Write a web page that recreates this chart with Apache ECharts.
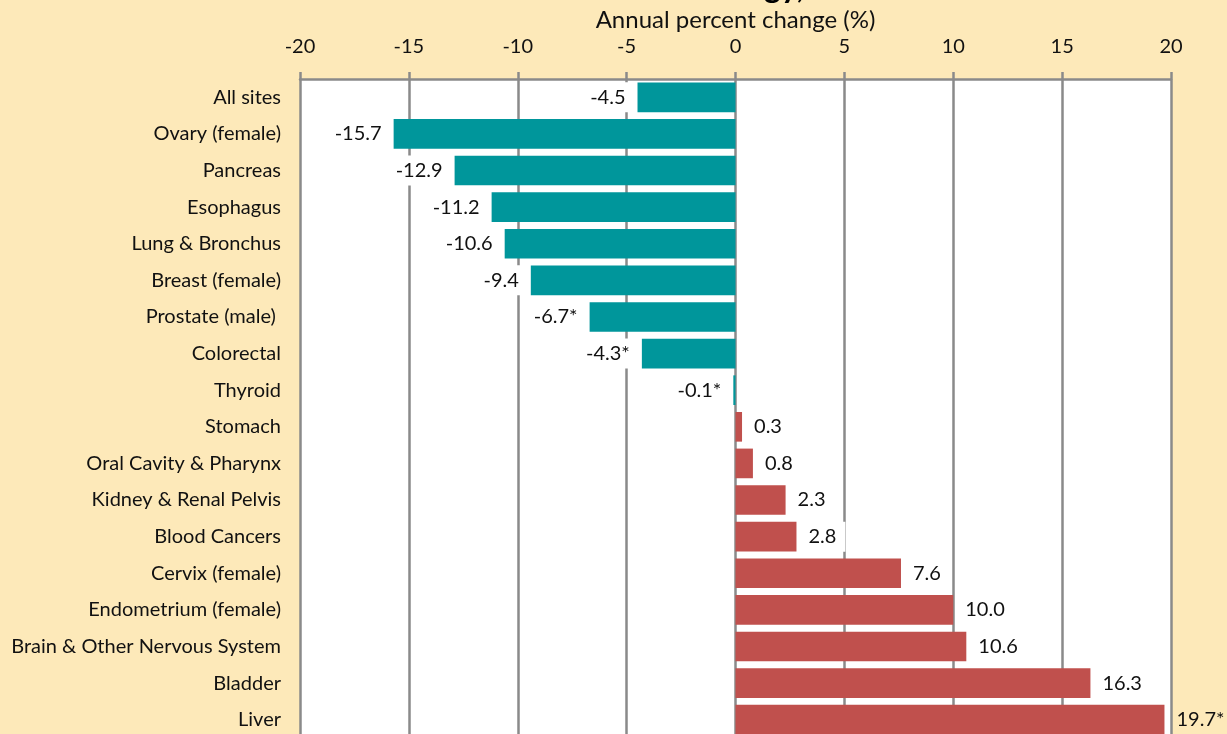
<!DOCTYPE html>
<html lang="en">
  <head>
    <meta charset="UTF-8" />
    <title>Annual percent change by site</title>
    <script src="https://cdnjs.cloudflare.com/ajax/libs/echarts/6.0.0/echarts.min.js"></script>
    <style>
      html, body { margin: 0; padding: 0; background: #fde9b9; }
      #chart { width: 1227px; height: 734px; }
    </style>
  </head>
  <body>
    <div id="chart"></div>
    <script type="text/javascript">
      // categories, top to bottom
      const sites = [
        "All sites", "Ovary (female)", "Pancreas", "Esophagus", "Lung & Bronchus",
        "Breast (female)", "Prostate (male) ", "Colorectal", "Thyroid", "Stomach",
        "Oral Cavity & Pharynx", "Kidney & Renal Pelvis", "Blood Cancers",
        "Cervix (female)", "Endometrium (female)", "Brain & Other Nervous System",
        "Bladder", "Liver"
      ];
      // annual percent change
      const apc = [
        -4.5, -15.7, -12.9, -11.2, -10.6, -9.4, -6.7, -4.3, -0.1, 0.3,
        0.8, 2.3, 2.8, 7.6, 10.0, 10.6, 16.3, 19.7
      ];
      // asterisk shown after the value
      const starred = [
        false, false, false, false, false, false, true, true, true, false,
        false, false, false, false, false, false, false, true
      ];
      const xTicks = [-20, 20, 5]; // min, max, step

      const font = "Lato, 'Open Sans', sans-serif";
      const gridGray = "#8a8a8a";

      const chart = echarts.init(document.getElementById("chart"));

      const barData = apc.map((v, i) => ({
        value: v,
        itemStyle: { color: v < 0 ? "#00969b" : "#c0504d" },
        label: {
          position: v < 0 ? "left" : "right",
          formatter: v.toFixed(1) + (starred[i] ? "*" : ""),
          backgroundColor: v > xTicks[1] * 0.9 ? "transparent" : "#ffffff"
        }
      }));

      const option = {
        backgroundColor: "#fde9b9",
        animation: false,
        textStyle: { fontFamily: font },
        grid: {
          left: 300,
          right: 56,
          top: 79,
          height: 659,
          outerBoundsMode: "none",
          show: true,
          backgroundColor: "#ffffff",
          borderWidth: 0
        },
        graphic: [
          {
            type: "text",
            left: 764,
            top: -28,
            silent: true,
            style: {
              text: "gy,",
              fontSize: 32,
              fontWeight: "bold",
              fontFamily: font,
              fill: "#000"
            }
          }
        ],
        xAxis: {
          type: "value",
          position: "top",
          min: xTicks[0],
          max: xTicks[1],
          interval: xTicks[2],
          name: "Annual percent change (%)",
          nameLocation: "middle",
          nameGap: 46,
          nameTextStyle: { fontSize: 24, color: "#111", fontFamily: font },
          axisLine: { show: true, lineStyle: { color: gridGray, width: 2.5 } },
          axisTick: { show: true, inside: false, length: 7, lineStyle: { color: gridGray, width: 2.5 } },
          axisLabel: { fontSize: 20, color: "#111", margin: 22 },
          splitLine: { show: true, lineStyle: { color: gridGray, width: 2.5 } }
        },
        yAxis: {
          type: "category",
          inverse: true,
          data: sites,
          axisLine: { show: false },
          axisTick: { show: false },
          axisLabel: { fontSize: 20, color: "#111", margin: 19 },
          splitLine: { show: false }
        },
        series: [
          {
            type: "bar",
            data: barData,
            barCategoryGap: "19%",
            z: 3,
            label: {
              show: true,
              distance: 3,
              fontSize: 20,
              color: "#111",
              padding: [5, 9, 5, 9]
            }
          }
        ]
      };

      chart.setOption(option);
    </script>
  </body>
</html>
